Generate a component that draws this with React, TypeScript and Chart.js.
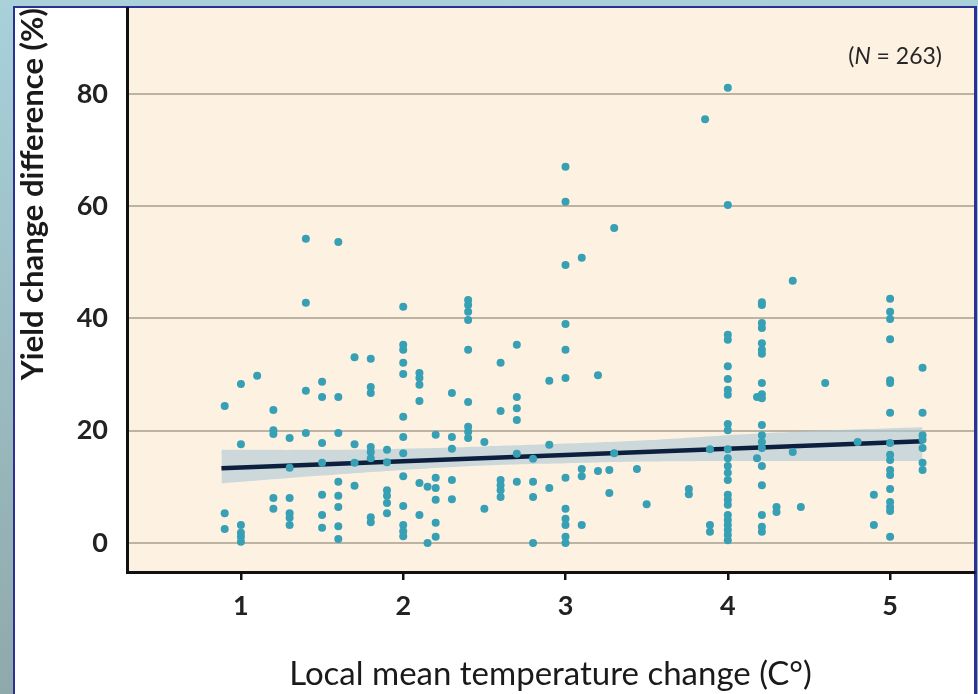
import React, { useEffect, useRef } from 'react';
import { Chart, registerables } from 'chart.js';

Chart.register(...registerables);

// Tick values
const xTickValues = [1, 2, 3, 4, 5];
const yTickValues = [0, 20, 40, 60, 80];

// Scatter points, grouped by local mean temperature change (°C)
const columnTemps = [
  0.9, 1.0, 1.1, 1.2, 1.3, 1.4, 1.5, 1.6, 1.7, 1.8, 1.9,
  2.0, 2.1, 2.15, 2.2, 2.3, 2.4, 2.5, 2.6, 2.7, 2.8, 2.9,
  3.0, 3.1, 3.2, 3.27, 3.3, 3.44, 3.5, 3.76, 3.86, 3.89,
  4.0, 4.18, 4.21, 4.3, 4.4, 4.45, 4.6, 4.8, 4.9, 5.0, 5.2,
];
const columnYields = [
  [24.4, 5.3, 2.5],
  [28.3, 17.6, 3.2, 1.8, 1.1, 0.2],
  [29.8],
  [23.7, 20.1, 19.4, 8.0, 6.1],
  [18.7, 13.4, 8.0, 5.3, 4.5, 3.2],
  [54.2, 42.8, 27.1, 19.6],
  [28.7, 26.0, 17.8, 14.3, 8.6, 5.0, 2.7],
  [53.6, 26.0, 19.6, 10.9, 8.4, 6.4, 3.0, 0.7],
  [33.1, 17.6, 14.3, 10.2],
  [32.8, 27.8, 26.7, 17.1, 16.2, 15.1, 4.6, 3.7],
  [16.6, 14.4, 9.4, 8.4, 7.1, 5.3],
  [42.1, 35.3, 34.4, 32.1, 30.1, 22.5, 18.9, 16.0, 11.9, 6.6, 3.2, 2.1, 1.2],
  [30.3, 29.4, 28.2, 25.3, 10.7, 5.0],
  [10.0, 0.0],
  [19.3, 11.6, 9.8, 7.7, 3.6, 1.1],
  [26.7, 18.9, 16.8, 11.2, 7.8],
  [43.3, 42.4, 41.2, 39.7, 34.4, 25.1, 20.7, 19.8, 18.7],
  [18.0, 6.1],
  [32.1, 23.5, 11.2, 10.3, 9.4, 8.2],
  [35.3, 26.0, 24.0, 21.9, 15.9, 10.9],
  [15.0, 10.9, 8.2, 0.0],
  [28.9, 17.5, 9.8],
  [67.0, 60.8, 49.5, 39.0, 34.4, 29.4, 11.6, 6.1, 4.3, 3.2, 1.1, 0.0],
  [50.8, 13.2, 11.9, 3.2],
  [29.9, 12.8],
  [13.0, 8.9],
  [56.1, 16.0],
  [13.2],
  [6.9],
  [9.6, 8.7],
  [75.5],
  [16.7, 3.2, 2.0],
  [81.1, 60.2, 37.1, 36.2, 31.5, 29.2, 27.3, 26.4, 21.2, 20.1, 16.7, 15.1, 13.7, 12.5, 11.2, 8.6, 7.7, 6.8, 5.0, 4.1, 3.2, 2.3, 1.4, 0.5],
  [26.0, 15.1],
  [42.9, 42.4, 39.2, 38.3, 35.6, 34.4, 33.7, 28.5, 26.5, 25.8, 21.0, 19.2, 18.0, 16.9, 13.7, 10.3, 5.0, 2.9, 2.0],
  [6.4, 5.5],
  [46.7, 16.2],
  [6.4],
  [28.5],
  [18.0],
  [8.6, 3.2],
  [43.5, 41.2, 39.9, 36.3, 29.0, 28.5, 23.2, 17.8, 15.7, 14.8, 13.0, 12.1, 9.6, 7.3, 6.4, 5.7, 1.1],
  [31.2, 23.2, 19.2, 18.4, 16.9, 14.3, 13.0],
];

// Regression line
const fitTemps = [0.88, 5.2];
const fitYields = [13.3, 18.1];

// Confidence band
const bandTemps = [0.88, 1.5, 2.0, 2.5, 3.0, 3.5, 4.0, 4.5, 5.2];
const bandUpper = [16.6, 16.6, 16.8, 17.2, 17.7, 18.3, 19.2, 19.9, 20.6];
const bandLower = [10.6, 12.0, 13.0, 13.8, 14.2, 14.5, 14.6, 14.6, 14.6];

const plotBackground = {
  id: 'plotBackground',
  beforeDraw(chart: any) {
    const { ctx, chartArea } = chart;
    ctx.save();
    ctx.fillStyle = '#fdf1e2';
    ctx.fillRect(chartArea.left, chartArea.top, chartArea.right - chartArea.left, chartArea.bottom - chartArea.top);
    ctx.restore();
  },
};

const sampleLabel = {
  id: 'sampleLabel',
  afterDraw(chart: any) {
    const { ctx } = chart;
    ctx.save();
    const reg = '23px Lato';
    const ita = 'italic 23px Lato';
    ctx.font = reg;
    const w1 = ctx.measureText('(').width;
    const w3 = ctx.measureText(' = 263)').width;
    ctx.font = ita;
    const w2 = ctx.measureText('N').width;
    const right = 942;
    let x = right - (w1 + w2 + w3);
    const y = 57;
    ctx.fillStyle = '#262626';
    ctx.textBaseline = 'middle';
    ctx.textAlign = 'left';
    ctx.font = reg;
    ctx.fillText('(', x, y);
    x += w1;
    ctx.font = ita;
    ctx.fillText('N', x, y);
    x += w2;
    ctx.font = reg;
    ctx.fillText(' = 263)', x, y);
    ctx.restore();
  },
};

export default function App() {
  const canvasRef = useRef<HTMLCanvasElement>(null);

  useEffect(() => {
    const points = columnTemps.flatMap((t, i) => columnYields[i].map((y) => ({ x: t, y })));
    const fit = fitTemps.map((x, i) => ({ x, y: fitYields[i] }));
    const upper = bandTemps.map((x, i) => ({ x, y: bandUpper[i] }));
    const lower = bandTemps.map((x, i) => ({ x, y: bandLower[i] }));

    const chart = new Chart(canvasRef.current as HTMLCanvasElement, {
      type: 'scatter',
      data: {
        datasets: [
          {
            label: 'Studies',
            data: points,
            backgroundColor: '#37a0b5',
            borderWidth: 0,
            pointRadius: 4,
            order: 0,
          } as any,
          {
            type: 'line',
            label: 'Fit',
            data: fit,
            borderColor: '#0c1f3e',
            borderWidth: 4.5,
            pointRadius: 0,
            fill: false,
            order: 1,
          } as any,
          {
            type: 'line',
            label: 'Upper',
            data: upper,
            borderWidth: 0,
            borderColor: 'rgba(0,0,0,0)',
            pointRadius: 0,
            tension: 0.4,
            fill: '+1',
            backgroundColor: 'rgba(172,200,212,0.6)',
            order: 2,
          } as any,
          {
            type: 'line',
            label: 'Lower',
            data: lower,
            borderWidth: 0,
            borderColor: 'rgba(0,0,0,0)',
            pointRadius: 0,
            tension: 0.4,
            fill: false,
            order: 3,
          } as any,
        ],
      },
      options: {
        animation: false,
        responsive: false,
        maintainAspectRatio: false,
        layout: { padding: { left: 14, top: 8, right: 4, bottom: 0 } },
        plugins: {
          legend: { display: false },
          tooltip: { enabled: false },
        },
        scales: {
          x: {
            type: 'linear',
            min: 0.298,
            max: 5.517,
            afterBuildTicks: (s: any) => {
              s.ticks = xTickValues.map((v) => ({ value: v }));
            },
            afterFit: (s: any) => {
              s.height = 122;
              s.paddingLeft = 0;
              s.paddingRight = 0;
            },
            grid: {
              drawOnChartArea: false,
              drawTicks: true,
              tickLength: 8,
              color: '#111',
              lineWidth: 2.5,
            },
            border: { display: true, color: '#111', width: 3 },
            ticks: {
              font: { family: 'Lato', size: 27, weight: 'bold' },
              color: '#222',
              padding: 10,
              maxRotation: 0,
            },
            title: {
              display: true,
              text: 'Local mean temperature change (C°)',
              font: { family: 'Lato', size: 33 },
              color: '#1a1a1a',
              padding: 0,
            },
          },
          y: {
            type: 'linear',
            min: -5.17,
            max: 95.3,
            afterBuildTicks: (s: any) => {
              s.ticks = yTickValues.map((v) => ({ value: v }));
            },
            afterFit: (s: any) => {
              s.width = 113;
              s.paddingTop = 0;
              s.paddingBottom = 0;
            },
            grid: {
              drawTicks: false,
              color: '#bdb3a3',
              lineWidth: 2,
            },
            border: { display: true, color: '#111', width: 3 },
            ticks: {
              font: { family: 'Lato', size: 27, weight: 'bold' },
              color: '#222',
              padding: 19,
            },
            title: {
              display: true,
              text: 'Yield change difference (%)',
              align: 'end',
              font: { family: 'Lato', size: 31, weight: 'bold' },
              color: '#1a1a1a',
              padding: 0,
            },
          },
        },
      } as any,
      plugins: [plotBackground, sampleLabel],
    });

    return () => chart.destroy();
  }, []);

  return (
    <div
      style={{
        position: 'fixed',
        left: 0,
        top: 0,
        width: 978,
        height: 694,
        overflow: 'hidden',
        background: 'linear-gradient(180deg, #a8d1da 0%, #9cbfc5 45%, #8fa9ab 100%)',
      }}
    >
      <div
        style={{
          position: 'absolute',
          left: 13,
          top: 6,
          width: 964,
          height: 720,
          boxSizing: 'border-box',
          background: '#ffffff',
          borderLeft: '2px solid #2c3096',
          borderTop: '2px solid #2c3096',
          borderRight: '3px solid #2c3096',
        }}
      />
      <canvas
        ref={canvasRef}
        width={978}
        height={694}
        style={{ position: 'absolute', left: 0, top: 0, width: 978, height: 694 }}
      />
    </div>
  );
}
